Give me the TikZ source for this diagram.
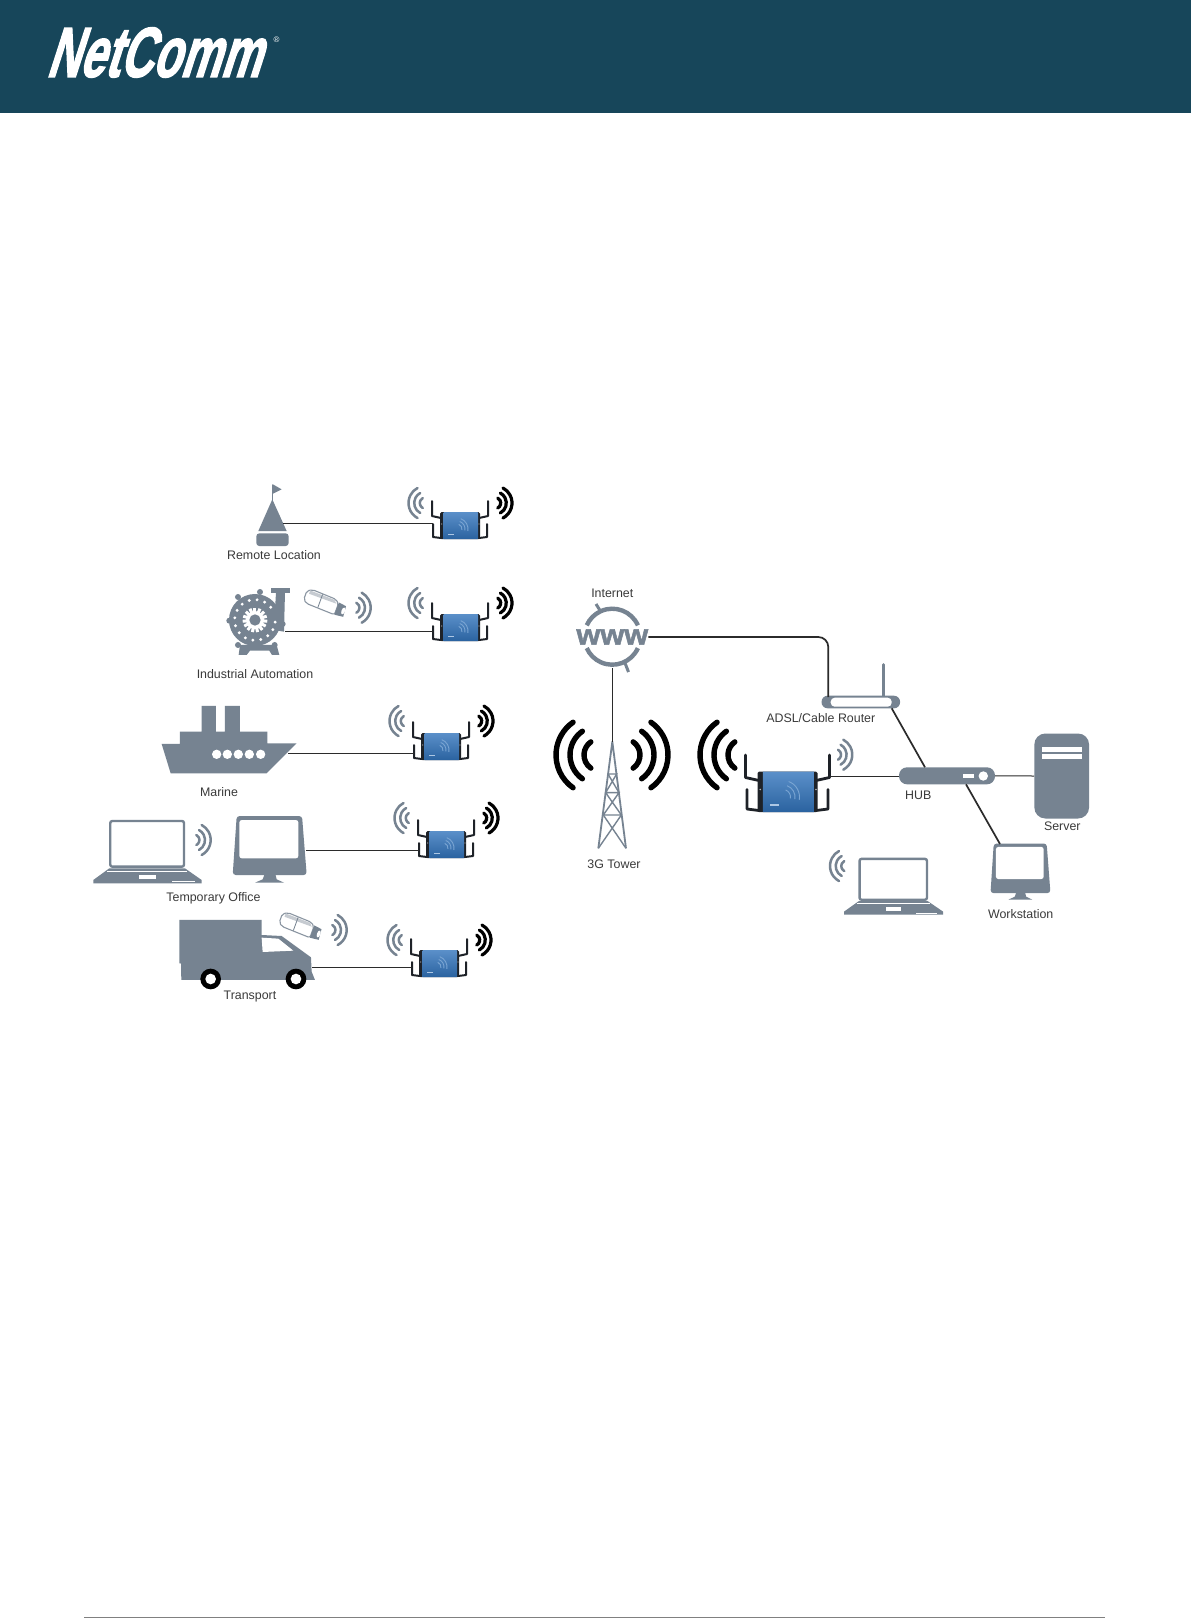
\documentclass[tikz,border=0pt]{standalone}
\usepackage{fontspec}
\setmainfont{Liberation Sans}
\newfontfamily\logofont[FakeSlant=0.5,FakeBold=2.2]{Liberation Sans Bold}
\newfontfamily\wwwfont[FakeBold=1.6]{Liberation Sans Bold}
\definecolor{icon}{HTML}{768391}
\definecolor{band}{HTML}{17465A}
\definecolor{wire}{HTML}{2B2B2B}
\definecolor{labelc}{HTML}{3A3A3A}
\definecolor{devblue}{HTML}{3274BC}
\definecolor{devdark}{HTML}{1E2228}
\definecolor{camlight}{HTML}{C6CBD1}
\tikzset{
  lab/.style={font=\fontsize{12.4}{14}\selectfont,text=labelc,inner sep=0pt},
  conn/.style={draw=wire,line width=1pt},
  connthick/.style={draw=wire,line width=1.7pt},
  pics/wave/.style={code={
    \draw[#1,line cap=round] (118:5.7) arc[start angle=118,end angle=242,radius=5.7];
    \draw[#1,line cap=round] (118:11.3) arc[start angle=118,end angle=242,radius=11.3];
    \draw[#1,line cap=round] (118:17) arc[start angle=118,end angle=242,radius=17];
  }},
  greywave/.style={draw=icon,line width=2.5pt},
  blackwave/.style={draw=black,line width=3.2pt},
  pics/bigwave/.style={code={
    \draw[black,line width=5.4pt,line cap=round] (0,0) ++(125:40) arc[start angle=125,end angle=235,radius=40];
    \draw[black,line width=5.4pt,line cap=round] (3,0) ++(125:29) arc[start angle=125,end angle=235,radius=29];
    \draw[black,line width=5.4pt,line cap=round] (4,0) ++(125:16) arc[start angle=125,end angle=235,radius=16];
  }},
  pics/modem/.style={code={
    \draw[devdark,line width=#1,line cap=round,line join=round] (-28,-25) -- (-28,-10) -- (-19,-8);
    \draw[devdark,line width=#1,line cap=round,line join=round] (-27,-2) -- (-27,11) -- (-19,12);
    \draw[devdark,line width=#1,line cap=round,line join=round] (28,-25) -- (28,-10) -- (19,-8);
    \draw[devdark,line width=#1,line cap=round,line join=round] (27,-2) -- (27,11) -- (19,12);
    \fill[devdark,rounded corners=1.5pt] (-20,-14) rectangle (20,13);
    \shade[top color=devblue!80!white,bottom color=devblue!85!black,rounded corners=.5pt] (-16.5,-14) rectangle (18,13);
    \draw[white!35!devblue,line width=.9pt] (-3,3) ++(-70:5) arc[start angle=-70,end angle=10,radius=5];
    \draw[white!35!devblue,line width=.9pt] (-3,3) ++(-70:8) arc[start angle=-70,end angle=10,radius=8];
    \draw[white!35!devblue,line width=.9pt] (-3,3) ++(-70:11) arc[start angle=-70,end angle=10,radius=11];
    \fill[white!60!devblue] (-12,7.5) rectangle (-6,8.8);
    \fill[white!70!black] (-18.2,-2) circle (.6) (19,-2) circle (.6);
    \coordinate (-port) at (-27,-3);
    \coordinate (-portr) at (28,-11);
  }},
  pics/camera/.style={code={
    \fill[white,draw=icon!85!white,line width=1.1pt,rounded corners=2pt] (-22,-6) -- (-17,-9) -- (8,-8) -- (12,-5) -- (12,7) -- (-18,6) -- (-22,3) -- cycle;
    \fill[camlight] (-19,-7.5) -- (7,-7) -- (10,-4) -- (-19,-4) -- cycle;
    \draw[icon,line width=.8pt] (-6,-8) -- (-6,6);
    \fill[icon] (12,-6) -- (20,-5) -- (21,6) -- (12,7) -- cycle;
    \fill[white] (19,.5) ellipse (1.7 and 3.6);
  }},
  pics/laptop/.style={code={
    \fill[icon] (48,145) -- (275,145) -- (325,180) -- (325,190) -- (0,190) -- (0,180) -- cycle;
    \draw[icon,fill=white,line width=2.4pt,rounded corners=2pt] (51,3) rectangle (272,140);
    \draw[white,line width=.7pt] (42,153) -- (282,153);
    \fill[white] (138,165) rectangle (188,177);
    \fill[white] (235,183) rectangle (305,186);
  }},
  pics/monitor/.style={code={
    \fill[icon] (97,170) -- (127,170) -- (132,190) -- (154,200) -- (67,200) -- (90,190) -- cycle;
    \fill[icon,rounded corners=3pt] (12,0) -- (208,0) -- (222,177) -- (0,177) -- cycle;
    \fill[white,rounded corners=2.5pt] (20,12) rectangle (197,127);
  }}
}
\newcommand{\smallmodem}[4]{%
  \pic (#1) at (#2,#3) {modem=2pt};
  \pic at ({#2-34.5+0},#4) {wave=greywave};
  \pic[xscale=-1] at ({#2+35},#4) {wave=blackwave};
}
\begin{document}
\begin{tikzpicture}[x=1pt,y=-1pt]
\useasboundingbox (0,0) rectangle (1191,1618);
\fill[white] (0,0) rectangle (1191,1618);
% header band
\fill[band] (0,0) rectangle (1191,113);
\node[text=white,inner sep=0pt,xscale=.63,yscale=.98,transform shape,font=\logofont\fontsize{72}{72}\selectfont] (logo) at (153,52.5) {NetComm};
\node[text=white,inner sep=0pt,font=\fontsize{8}{8}\selectfont] (reg) at (276.5,40) {®};
% footer rule
\draw[draw=black!50,line width=1pt] (84,1617) -- (1105,1617);

% ---------- modems ----------
\smallmodem{mA}{460}{526}{503}
\smallmodem{mB}{460}{628}{603}
\smallmodem{mC}{441}{747}{721}
\smallmodem{mD}{446}{845}{818}
\smallmodem{mE}{439}{964}{940}

% ---------- buoy ----------
\begin{scope}[shift={(150,470)},scale=.3333]
\draw[icon,line width=1pt] (367,45) -- (367,95);
\fill[icon] (367,42) -- (395,58) -- (367,72) -- cycle;
\fill[icon] (367,88) -- (410,183) -- (325,183) -- cycle;
\fill[icon,rounded corners=3pt] (319,190) -- (416,190) -- (416,228) -- (319,228) -- cycle;
\end{scope}
\coordinate (buoyport) at (283,523);
\node[lab] (lbuoy) at (274,555) {Remote Location};

% ---------- pump ----------
\begin{scope}[shift={(150,470)},scale=.3333]
\fill[icon] (270,525) -- (380,525) -- (388,555) -- (366,555) -- (358,542) -- (300,542) -- (290,555) -- (266,555) -- cycle;
\fill[icon] (375,420) -- (378,368) -- (405,368) -- (402,485) -- (370,480) -- cycle;
\fill[icon] (363,355) rectangle (420,368);
\fill[icon] (315,450) circle (78);
\foreach \p in {(264,381),(330,366),(238,452),(264,525),(374,525),(398,462)} \fill[icon] \p circle (9);
\foreach \a in {0,22.5,...,337} \fill[white] (315,450) ++(\a+6:61) circle (4.8);
\fill[white] (315,450) circle (27);
\foreach \a in {0,24,...,336} \fill[white,rotate around={\a:(315,450)}] (310.5,413) rectangle (319.5,430);
\fill[icon] (315,450) circle (17);
\end{scope}
\coordinate (pumpport) at (285,631);
\node[lab] (lpump) at (255,674) {Industrial Automation};
\pic[rotate=-20] at (325.5,604) {camera};
\pic[xscale=-1] at (353.7,607.7) {wave=greywave};

% ---------- ship ----------
\begin{scope}[shift={(150,470)},scale=.3333]
\fill[icon] (35,822) -- (90,822) -- (90,785) -- (155,785) -- (155,708) -- (198,708) -- (198,785) -- (225,785) -- (225,708) -- (270,708) -- (270,785) -- (352,785) -- (352,820) -- (440,820) -- (350,910) -- (62,910) -- cycle;
\foreach \x in {200,232,265,298,332} \fill[white] (\x,853) circle (14);
\end{scope}
\coordinate (shipport) at (288,753);
\node[lab] (lship) at (219,792) {Marine};

% ---------- temporary office ----------
\pic[scale=.3333] at (93.3,820) {laptop};
\pic[xscale=-1] at (193.7,840) {wave=greywave};
\pic[scale=.3333] at (232.7,816) {monitor};
\coordinate (monport) at (306,850);
\node[lab] (loffice) at (213.5,898) {Temporary Office};

% ---------- truck ----------
\begin{scope}[shift={(80,780)},scale=.3333]
\fill[icon] (298,420) -- (545,420) -- (545,465) -- (605,468) -- (693,532) -- (695,575) -- (705,600) -- (304,600) -- (303,550) -- (298,550) -- cycle;
\fill[white] (545,473) -- (595,476) -- (640,512) -- (548,516) -- cycle;
\foreach \x in {392,648} {
  \fill[black] (\x,597) circle (31);
  \fill[white] (\x,597) circle (16);
}
\end{scope}
\coordinate (truckport) at (312,967);
\node[lab] (ltruck) at (250,996.5) {Transport};
\pic[rotate=-20] at (301,927) {camera};
\pic[xscale=-1] at (329.7,930) {wave=greywave};

% left connectors
\draw[conn] (buoyport) -- (buoyport -| mA-port);
\draw[conn] (pumpport) -- (pumpport -| mB-port);
\draw[conn] (shipport) -- (shipport -| mC-port);
\draw[conn] (monport) -- (monport -| mD-port);
\draw[conn] (truckport) -- (truckport -| mE-port);

% ---------- internet ----------
\node[lab] (linternet) at (612.3,593.5) {Internet};
\draw[icon,line width=4.4pt] (612.3,636.7) ++(-24:28) arc[start angle=-24,end angle=-156,radius=28];
\draw[icon,line width=4.4pt] (612.3,636.7) ++(24:28) arc[start angle=24,end angle=156,radius=28];
\draw[icon,line width=3pt] (596,604) -- (601,612);
\draw[icon,line width=3pt] (625,663) -- (628.5,672);
\fill[white] (578,627) rectangle (647,647);
\node[text=icon,inner sep=0pt,xscale=1.06,transform shape,font=\wwwfont\fontsize{29}{30}\selectfont] (www) at (612.3,637) {www};

% ---------- tower ----------
\coordinate (towertop) at (612.3,742);
\begin{scope}[shift={(540,570)},scale=.3333]
\draw[icon,line width=1.8pt,line join=round] (175,835) -- (217,515) -- (258,835);
\draw[icon,line width=1.4pt] (204,612) -- (230,612) -- (197,668) -- (237,668) -- (190,735) -- (244,735) (204,612) -- (237,668) (197,668) -- (244,735);
\draw[icon,line width=1.4pt] (190,735) -- (258,835) (244,735) -- (175,835);
\end{scope}
\node[lab] (ltower) at (614,864.5) {3G Tower};
\pic at (596,755) {bigwave};
\pic[xscale=-1] at (628,755) {bigwave};
\pic at (740,755) {bigwave};

% ---------- big modem ----------
\pic[scale=1.5] (mF) at (787.5,792.5) {modem=2.8pt};
\pic[xscale=-1] at (835.3,754.7) {wave=greywave};

% ---------- router ----------
\draw[icon,line width=2.6pt,line cap=round] (883.3,664.5) -- (883.3,697);
\node[fill=icon,rounded corners=6pt,minimum width=78.5pt,minimum height=12.6pt,inner sep=0pt] (router) at (860.8,702) {};
\fill[white,rounded corners=4pt] (830.7,697.7) rectangle (891.7,706.7);
\coordinate (routerin) at (828.3,697);
\node[lab] (lrouter) at (820.8,718.3) {ADSL/Cable Router};

% ---------- hub ----------
\node[fill=icon,rounded corners=8pt,minimum width=96pt,minimum height=17pt,inner sep=0pt] (hub) at (947,775.8) {};
\fill[white] (962.7,774) rectangle (974.3,778.3);
\fill[white] (983.3,776) circle (4.7);
\node[lab] (lhub) at (918.3,795.7) {HUB};

% ---------- server ----------
\node[fill=icon,rounded corners=11pt,minimum width=54.7pt,minimum height=85pt,inner sep=0pt] (server) at (1061.7,776) {};
\fill[white] (1041.7,746.7) rectangle (1081.7,751.7);
\fill[white] (1041.7,754.3) rectangle (1081.7,759.3);
\node[lab] (lserver) at (1062.3,826) {Server};

% ---------- workstation ----------
\pic[xscale=.27,yscale=.28] at (990.5,843.5) {monitor};
\coordinate (wsin) at (1000,844);
\node[lab] (lws) at (1020.7,913.8) {Workstation};

% ---------- laptop right ----------
\pic[xscale=.305,yscale=.298] at (844,858) {laptop};
\pic at (847,866) {wave=greywave};

% right connectors
\draw[connthick,rounded corners=10pt] (www.east) -| (routerin);
\draw[conn,line width=1.2pt] (www.south |- towertop) ++(0,-74) -- (towertop);
\draw[connthick] (891.7,708.3) -- (925,767.3);
\draw[conn] (mF-portr) -- (mF-portr -| hub.west);
\draw[conn] (hub.east) -- (server.west);
\draw[connthick] (966,784.3) -- (wsin);
\end{tikzpicture}
\end{document}
